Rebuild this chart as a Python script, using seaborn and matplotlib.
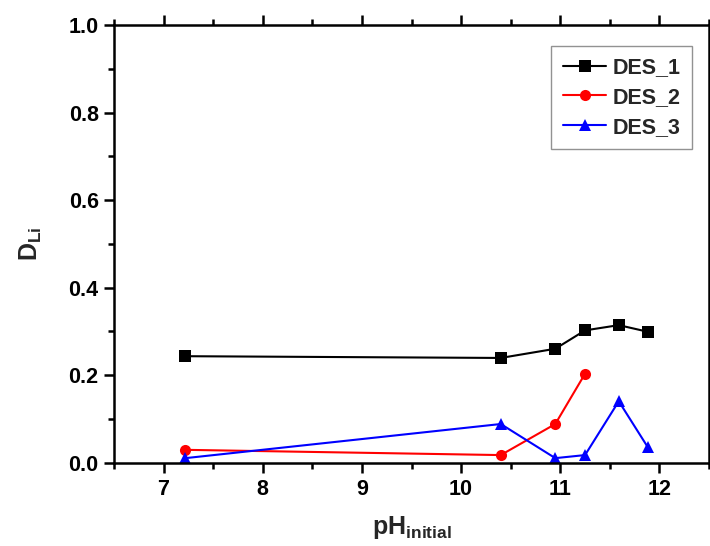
import pandas as pd
import seaborn as sns
import matplotlib.pyplot as plt
from matplotlib.ticker import MultipleLocator

# values
ph_des1 = [7.22, 10.40, 10.95, 11.25, 11.59, 11.88]
d_des1 = [0.243, 0.239, 0.260, 0.302, 0.314, 0.299]

ph_des2 = [7.22, 10.40, 10.95, 11.25]
d_des2 = [0.029, 0.017, 0.088, 0.203]

ph_des3 = [7.22, 10.40, 10.95, 11.25, 11.59, 11.88]
d_des3 = [0.010, 0.088, 0.010, 0.017, 0.140, 0.036]

series_names = ['DES_1', 'DES_2', 'DES_3']

df = pd.concat([
    pd.DataFrame({'pH': ph_des1, 'D': d_des1, 'DES': 'DES_1'}),
    pd.DataFrame({'pH': ph_des2, 'D': d_des2, 'DES': 'DES_2'}),
    pd.DataFrame({'pH': ph_des3, 'D': d_des3, 'DES': 'DES_3'}),
], ignore_index=True)

sns.set_style("ticks")
plt.rcParams['font.family'] = ['Liberation Sans', 'DejaVu Sans']
plt.rcParams['font.weight'] = 'bold'
plt.rcParams['mathtext.fontset'] = 'custom'
plt.rcParams['mathtext.rm'] = 'Liberation Sans:bold'
plt.rcParams['mathtext.bf'] = 'Liberation Sans:bold'
plt.rcParams['mathtext.it'] = 'Liberation Sans:bold'

fig = plt.figure(figsize=(7.1, 5.46), dpi=100)
ax = fig.add_axes([0.1606, 0.1529, 0.838, 0.8013])

sns.lineplot(
    data=df, x='pH', y='D', hue='DES', style='DES',
    palette={'DES_1': 'black', 'DES_2': '#ff0000', 'DES_3': '#0000ff'},
    markers={'DES_1': 's', 'DES_2': 'o', 'DES_3': '^'},
    dashes=False, markersize=8, markeredgewidth=0, linewidth=1.5, ax=ax
)

ax.set_xlim(6.5, 12.5)
ax.set_ylim(0, 1.0)
ax.xaxis.set_major_locator(MultipleLocator(1))
ax.xaxis.set_minor_locator(MultipleLocator(0.5))
ax.yaxis.set_minor_locator(MultipleLocator(0.1))
ax.set_yticks([0, 0.2, 0.4, 0.6, 0.8, 1.0])
ax.set_yticklabels(['0.0', '0.2', '0.4', '0.6', '0.8', '1.0'])

for s in ax.spines.values():
    s.set_linewidth(1.8)
    s.set_color('black')

ax.tick_params(which='both', direction='out', top=True, right=True,
               width=1.8, labelsize=15.5, colors='black')
ax.tick_params(which='major', length=7)
ax.tick_params(which='minor', length=4)
ax.tick_params(axis='x', pad=5)
ax.tick_params(axis='y', pad=4)
for lab in ax.get_xticklabels() + ax.get_yticklabels():
    lab.set_fontweight('bold')

ax.set_xlabel(r'$\mathbf{pH_{initial}}$', fontsize=18, labelpad=10)
ax.set_ylabel(r'$\mathbf{D_{Li}}$', fontsize=18, labelpad=18)

handles, labels = ax.get_legend_handles_labels()
leg = ax.legend(handles, labels, loc='upper right', bbox_to_anchor=(0.972, 0.953),
                borderaxespad=0, fancybox=False, edgecolor='#777777',
                prop={'size': 15.5, 'weight': 'bold'}, handlelength=2.0,
                handletextpad=0.3, labelspacing=0.4, borderpad=0.55)
leg.get_frame().set_linewidth(1.0)

plt.savefig('out.png', dpi=100)
